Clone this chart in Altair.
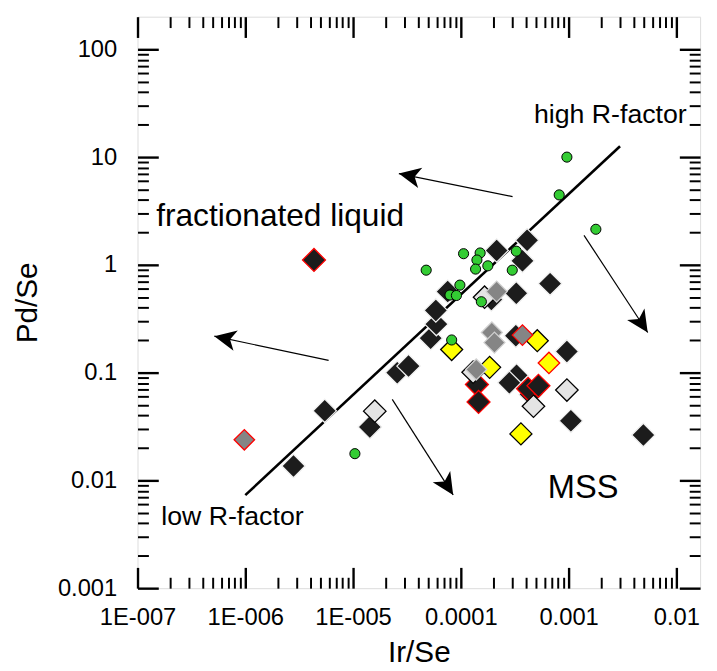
import math
import altair as alt
import pandas as pd

FONT = "Liberation Sans"

# ---- axis ranges / plot size ----
X_MIN, X_MAX = 1e-7, 0.0166
Y_MIN, Y_MAX = 1e-3, 201.0
W, H = 569, 578

x_major = [1e-7, 1e-6, 1e-5, 1e-4, 1e-3, 1e-2]
x_labels = ["1E-007", "1E-006", "1E-005", "0.0001", "0.001", "0.01"]
y_major = [1e-3, 1e-2, 1e-1, 1, 10, 100]
y_labels = ["0.001", "0.01", "0.1", "1", "10", "100"]
x_minor = [k * 10.0 ** e for e in range(-7, -1) for k in range(2, 10) if k * 10.0 ** e < X_MAX]
y_minor = [k * 10.0 ** e for e in range(-3, 3) for k in range(2, 10) if k * 10.0 ** e < 150]

# ---- data (Ir/Se, Pd/Se) ----
black_ir = [1.92e-4, 2.80e-6, 5.46e-6, 1.43e-5, 2.57e-5, 3.27e-5, 5.25e-5, 5.93e-5, 5.86e-5,
            7.55e-5, 2.15e-4, 4.12e-4, 3.73e-4, 6.73e-4, 3.27e-4, 3.24e-4, 9.64e-4,
            3.29e-4, 2.82e-4, 4.44e-4, 1.05e-3, 4.94e-3]
black_pd = [0.478, 0.0136, 0.0442, 0.0313, 0.100, 0.115, 0.209, 0.282, 0.378,
            0.565, 1.36, 1.69, 1.09, 0.670, 0.546, 0.220, 0.157,
            0.0944, 0.0806, 0.0628, 0.0357, 0.0264]
black_red_ir = [4.34e-6, 1.41e-4, 1.46e-4, 4.21e-4, 5.25e-4]
black_red_pd = [1.11, 0.0776, 0.0535, 0.0708, 0.0755]
lightgray_ir = [1.59e-5, 1.66e-4, 1.30e-4, 4.72e-4, 9.64e-4]
lightgray_pd = [0.0439, 0.501, 0.101, 0.0488, 0.0689]
yellow_ir = [8.22e-5, 1.85e-4, 5.12e-4, 3.61e-4]
yellow_pd = [0.164, 0.112, 0.198, 0.0270]
yellow_red_ir = [6.57e-4]
yellow_red_pd = [0.123]
gray_ir = [1.94e-4, 2.05e-4, 1.39e-4, 2.15e-4]
gray_pd = [0.236, 0.190, 0.107, 0.565]
gray_red_ir = [3.73e-4, 9.8e-7]
gray_red_pd = [0.223, 0.0238]
green_ir = [9.64e-4, 8.18e-4, 1.79e-3, 1.06e-4, 1.51e-4, 1.41e-4, 1.37e-4, 1.78e-4, 4.77e-5,
            3.27e-4, 3.00e-4, 9.8e-5, 7.93e-5, 9.1e-5, 1.55e-4, 8.22e-5, 1.04e-5]
green_pd = [10.0, 4.46, 2.14, 1.27, 1.29, 1.11, 0.914, 0.98, 0.893,
            1.34, 0.893, 0.649, 0.525, 0.52, 0.455, 0.201, 0.0177]

line_ir = [1.0e-6, 3.0e-3]
line_pd = [0.0073, 12.6]

arrow_tail_ir = [3.02e-4, 5.93e-6, 2.31e-5, 1.39e-3]
arrow_tail_pd = [4.30, 0.130, 0.0565, 1.88]
arrow_tip_ir = [2.66e-5, 5.16e-7, 8.49e-5, 5.42e-3]
arrow_tip_pd = [7.03, 0.218, 0.00733, 0.236]

notes = ["fractionated liquid", "high R-factor", "low R-factor", "MSS"]
note_ir = [1.49e-7, 4.77e-4, 1.66e-7, 6.4e-4]
note_pd = [2.28, 20.9, 0.00387, 0.00684]

# ---- tables ----
groups = [
    ("black", black_ir, black_pd),
    ("black_red", black_red_ir, black_red_pd),
    ("lightgray", lightgray_ir, lightgray_pd),
    ("yellow", yellow_ir, yellow_pd),
    ("yellow_red", yellow_red_ir, yellow_red_pd),
    ("gray", gray_ir, gray_pd),
    ("gray_red", gray_red_ir, gray_red_pd),
]
rows = []
for name, xs_, ys_ in groups:
    for a, b in zip(xs_, ys_):
        rows.append({"ir": a, "pd": b, "type": name, "ord": len(rows)})
diam_df = pd.DataFrame(rows)
green_df = pd.DataFrame({"ir": green_ir, "pd": green_pd})
line_df = pd.DataFrame({"ir": line_ir, "pd": line_pd})

PX_X = W / math.log10(X_MAX / X_MIN)
PX_Y = H / math.log10(Y_MAX / Y_MIN)
angles = []
for x0, y0, x1, y1 in zip(arrow_tail_ir, arrow_tail_pd, arrow_tip_ir, arrow_tip_pd):
    dx = math.log10(x1 / x0) * PX_X
    dy = -math.log10(y1 / y0) * PX_Y
    angles.append(math.degrees(math.atan2(dx, -dy)) % 360)
arrow_df = pd.DataFrame({"ir": arrow_tail_ir, "pd": arrow_tail_pd,
                         "ir2": arrow_tip_ir, "pd2": arrow_tip_pd, "ang": angles})

xs = alt.Scale(type="log", domain=[X_MIN, X_MAX], nice=False)
ys = alt.Scale(type="log", domain=[Y_MIN, Y_MAX], nice=False)


def lab_expr(labels, shift):
    arr = "[" + ",".join("'%s'" % s for s in labels) + "]"
    return "%s[round(log(datum.value)/LN10)+%d]" % (arr, shift)


base_ax = dict(grid=False, domain=False, tickColor="black", labelFlush=False,
               labelOverlap=False)
MAJ_W, MIN_W = 2.4, 2.0

ax_x_major = alt.Axis(orient="bottom", values=x_major, offset=-21, tickSize=21, tickWidth=MAJ_W,
                      labelExpr=lab_expr(x_labels, 7), labelPadding=18, labelFontSize=24,
                      labelFont=FONT, labelColor="black", title="Ir/Se", titleFont=FONT,
                      titleFontSize=30, titleFontWeight="normal", titleColor="black",
                      titleX=W / 2, titleY=95, titleBaseline="alphabetic", titleAlign="center",
                      **base_ax)
ax_x_minor = alt.Axis(orient="bottom", values=x_minor, offset=-11, tickSize=11, tickWidth=MIN_W,
                      labels=False, title=None, **base_ax)
ax_x_major_t = alt.Axis(orient="top", values=x_major, offset=-21, tickSize=21, tickWidth=MAJ_W,
                        labels=False, title=None, **base_ax)
ax_x_minor_t = alt.Axis(orient="top", values=x_minor, offset=-11, tickSize=11, tickWidth=MIN_W,
                        labels=False, title=None, **base_ax)

ax_y_major = alt.Axis(orient="left", values=y_major, offset=-21, tickSize=21, tickWidth=MAJ_W,
                      labelExpr=lab_expr(y_labels, 3), labelPadding=21, labelFontSize=24,
                      labelFont=FONT, labelColor="black", title="Pd/Se", titleFont=FONT,
                      titleFontSize=30, titleFontWeight="normal", titleColor="black",
                      titleAngle=270, titleX=-123, titleY=H / 2, titleBaseline="alphabetic",
                      titleAlign="center", **base_ax)
ax_y_minor = alt.Axis(orient="left", values=y_minor, offset=-11, tickSize=11, tickWidth=MIN_W,
                      labels=False, title=None, **base_ax)
ax_y_major_r = alt.Axis(orient="right", values=y_major, offset=-21, tickSize=21, tickWidth=MAJ_W,
                        labels=False, title=None, **base_ax)
ax_y_minor_r = alt.Axis(orient="right", values=y_minor, offset=-11, tickSize=11, tickWidth=MIN_W,
                        labels=False, title=None, **base_ax)


def axis_layer(xa, ya):
    return alt.Chart(line_df).mark_point(opacity=0).encode(
        x=alt.X("ir:Q", scale=xs, axis=xa),
        y=alt.Y("pd:Q", scale=ys, axis=ya),
    )


layers = [
    axis_layer(ax_x_major, ax_y_major),
    axis_layer(ax_x_minor, ax_y_minor),
    axis_layer(ax_x_major_t, ax_y_major_r),
    axis_layer(ax_x_minor_t, ax_y_minor_r),
]

line = alt.Chart(line_df).mark_line(color="black", strokeWidth=2.6).encode(
    x=alt.X("ir:Q", scale=xs, axis=None), y=alt.Y("pd:Q", scale=ys, axis=None))

arrow_lines = alt.Chart(arrow_df).mark_rule(color="black", strokeWidth=1.2).encode(
    x=alt.X("ir:Q", scale=xs, axis=None), y=alt.Y("pd:Q", scale=ys, axis=None),
    x2="ir2:Q", y2="pd2:Q")

ARROW = "M0,0 L-1,2.1 L0,1.55 L1,2.1 Z"
arrow_heads = alt.Chart(arrow_df).mark_point(
    shape=ARROW, filled=True, color="black", size=440, opacity=1, strokeWidth=0).encode(
    x=alt.X("ir2:Q", scale=xs, axis=None), y=alt.Y("pd2:Q", scale=ys, axis=None),
    angle=alt.Angle("ang:Q", scale=None))

type_dom = ["black", "black_red", "lightgray", "yellow", "yellow_red", "gray", "gray_red"]
diamonds = alt.Chart(diam_df).mark_point(
    shape="diamond", filled=True, opacity=1, strokeWidth=1.3).encode(
    x=alt.X("ir:Q", scale=xs, axis=None), y=alt.Y("pd:Q", scale=ys, axis=None),
    fill=alt.Fill("type:N", legend=None, scale=alt.Scale(
        domain=type_dom,
        range=["#1c1c1c", "#1c1c1c", "#e4e4e4", "#ffff00", "#ffff00", "#858585", "#858585"])),
    stroke=alt.Stroke("type:N", legend=None, scale=alt.Scale(
        domain=type_dom,
        range=["#f0f0f0", "#ff0000", "#000000", "#000000", "#ff0000", "#d0d0d0", "#ff0000"])),
    size=alt.Size("type:N", legend=None, scale=alt.Scale(
        domain=type_dom, range=[560, 430, 460, 440, 440, 480, 430])),
    order=alt.Order("ord:Q"),
)

circles = alt.Chart(green_df).mark_point(
    shape="circle", filled=True, color="#33cc33", stroke="black", strokeWidth=1,
    size=105, opacity=1).encode(
    x=alt.X("ir:Q", scale=xs, axis=None), y=alt.Y("pd:Q", scale=ys, axis=None))

note_sizes = [32, 27, 27, 33]
texts = []
for i, t in enumerate(notes):
    df = pd.DataFrame({"ir": [note_ir[i]], "pd": [note_pd[i]], "t": [t]})
    texts.append(alt.Chart(df).mark_text(
        font=FONT, fontSize=note_sizes[i], align="left", baseline="alphabetic",
        color="black").encode(
        x=alt.X("ir:Q", scale=xs, axis=None), y=alt.Y("pd:Q", scale=ys, axis=None),
        text="t:N"))

chart = alt.layer(*layers, line, arrow_lines, arrow_heads, diamonds, circles, *texts).resolve_axis(
    x="independent", y="independent"
).properties(
    width=W, height=H,
    padding={"left": 131, "top": 5, "right": 9, "bottom": 80},
    autosize=alt.AutoSizeParams(type="none"),
).configure_view(stroke="black", strokeWidth=2).configure(background="white")

chart.save("out.html", embed_options={"renderer": "svg", "actions": False})
